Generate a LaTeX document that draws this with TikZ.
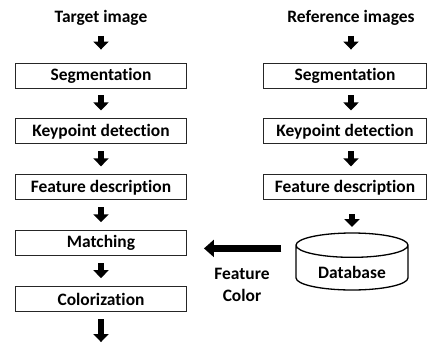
\documentclass[tikz,border=0pt]{standalone}
\usepackage{fontspec}
\setmainfont{Carlito}[Ligatures=NoCommon]
\usetikzlibrary{arrows.meta, positioning, shapes.geometric}
\tikzset{
	titletext/.style={font=\bfseries\fontsize{17.5}{21.5}\selectfont, inner sep=0pt},
	stepbox/.style={rectangle, draw=black!85, line width=0.9bp, minimum height=25bp, inner sep=0pt, font=\bfseries\fontsize{17.5}{21}\selectfont},
	leftbox/.style={stepbox, minimum width=171bp},
	rightbox/.style={stepbox, minimum width=163bp},
	dbcyl/.style={cylinder, shape border rotate=90, aspect=0.36, draw=black, line width=1.3bp, minimum width=112bp, minimum height=57bp, inner sep=0pt, font=\bfseries\fontsize{17.5}{21}\selectfont},
	downarrow/.style={line width=5.5bp, -{Triangle[width=15bp, length=8bp]}, shorten <=7bp, shorten >=8bp},
	sidearrow/.style={line width=7bp, -{Triangle[width=17bp, length=10bp]}},
}
\begin{document}
\begin{tikzpicture}[x=1bp, y=-1bp, node distance=30bp]
		\useasboundingbox (0,0) rectangle (428,346);
		% target image column
		\node[titletext] (ltitle) at (101,18) {Target image};
		\node[leftbox] (lseg) at (101,75.5) {Segmentation};
		\node[leftbox, below=of lseg] (lkey) {Keypoint detection};
		\node[leftbox, below=of lkey] (lfeat) {Feature description};
		\node[leftbox, below=of lfeat] (lmatch) {Matching};
		\node[leftbox, below=of lmatch] (lcolor) {Colorization};
		\coordinate[below=of lcolor] (lout);
		% reference images column
		\node[titletext] (rtitle) at (351,18) {Reference images};
		\node[rightbox] (rseg) at (345,75.5) {Segmentation};
		\node[rightbox, below=of rseg] (rkey) {Keypoint detection};
		\node[rightbox, below=of rkey] (rfeat) {Feature description};
		\node[dbcyl, anchor=shape center] (db) at (352,261.5) {\raisebox{-5bp}[\height][\depth]{Database}};
		\node[titletext, align=center] (fclabel) at (242,285) {Feature\\Color};
		\draw[downarrow, shorten <=10bp, shorten >=13bp] (ltitle) -- (lseg);
		\draw[downarrow] (lseg) -- (lkey);
		\draw[downarrow] (lkey) -- (lfeat);
		\draw[downarrow] (lfeat) -- (lmatch);
		\draw[downarrow] (lmatch) -- (lcolor);
		\draw[downarrow, shorten >=0bp] (lcolor) -- (lout);
		\draw[downarrow, shorten <=10bp, shorten >=13bp] (rtitle.south) -- (rtitle.south |- rseg.north);
		\draw[downarrow] ([xshift=6bp]rseg.south) -- ([xshift=6bp]rkey.north);
		\draw[downarrow] ([xshift=6bp]rkey.south) -- ([xshift=6bp]rfeat.north);
		\draw[downarrow, shorten <=14bp, shorten >=0bp] (rfeat.south -| db.shape center) -- ([yshift=34.5bp]db.shape center);
		\draw[sidearrow, shorten <=14bp, shorten >=17bp] ([yshift=19.5bp]db.west) coordinate (dbside) -- (dbside -| lmatch.east);
	\end{tikzpicture}
\end{document}
